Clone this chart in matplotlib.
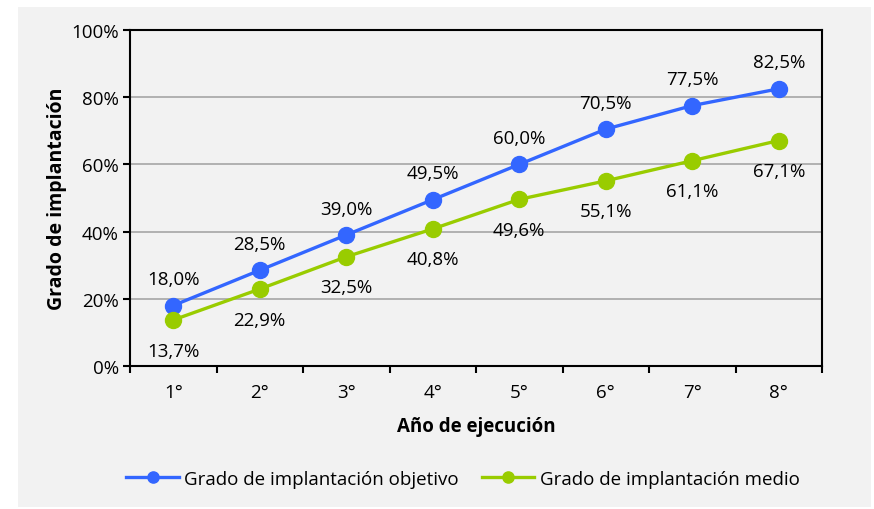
import matplotlib.pyplot as plt
from matplotlib.patches import Rectangle

# Chart data
years = ["1°", "2°", "3°", "4°", "5°", "6°", "7°", "8°"]
objetivo = [18.0, 28.5, 39.0, 49.5, 60.0, 70.5, 77.5, 82.5]
medio = [13.7, 22.9, 32.5, 40.8, 49.6, 55.1, 61.1, 67.1]
yticks = [0, 20, 40, 60, 80, 100]

blue = "#3366FF"
green = "#99CC00"
bg = "#F2F2F2"

plt.rcParams["font.family"] = ["Open Sans", "DejaVu Sans"]

fig = plt.figure(figsize=(8.74, 5.10), dpi=100)
fig.patch.set_facecolor("white")
fig.patches.append(Rectangle((18 / 874, 2 / 510), 853 / 874, 500 / 510,
                             transform=fig.transFigure, facecolor=bg,
                             edgecolor="none", zorder=-10))

ax = fig.add_axes([130 / 874, 1 - 367 / 510, 692 / 874, 336 / 510])
ax.set_facecolor(bg)

x = list(range(len(years)))
ax.plot(x, objetivo, "-o", color=blue, lw=2.4, ms=11.5, label="Grado de implantación objetivo", zorder=3)
ax.plot(x, medio, "-o", color=green, lw=2.4, ms=11.5, label="Grado de implantación medio", zorder=3)

for xi, v in zip(x, objetivo):
    ax.annotate(f"{v:.1f}%".replace(".", ","), (xi, v), xytext=(0, 19),
                textcoords="offset points", ha="center", va="center", fontsize=13.5)
for xi, v in zip(x, medio):
    ax.annotate(f"{v:.1f}%".replace(".", ","), (xi, v), xytext=(0, -22),
                textcoords="offset points", ha="center", va="center", fontsize=13.5)

ax.set_xlim(-0.5, len(years) - 0.5)
ax.set_ylim(0, 100)
ax.set_yticks(yticks)
ax.set_yticklabels([f"{t}%" for t in yticks], fontsize=13.5)
ax.set_xticks(x)
ax.set_xticklabels(years, fontsize=13.5)
ax.set_xticks([i - 0.5 for i in range(len(years) + 1)], minor=True)
ax.tick_params(axis="x", which="major", length=0, pad=12)
ax.tick_params(axis="x", which="minor", length=5, width=1.5, direction="out")
ax.tick_params(axis="y", length=5, width=1.5, direction="out", pad=3)

ax.grid(axis="y", color="#A6A6A6", lw=1.2)
ax.set_axisbelow(True)
for s in ax.spines.values():
    s.set_linewidth(1.5)
    s.set_color("black")

ax.set_xlabel("Año de ejecución", fontsize=13.5, fontweight="bold", labelpad=11)
ax.set_ylabel("Grado de implantación", fontsize=14, fontweight="bold", labelpad=3)

ax.legend(loc="center", bbox_to_anchor=(463 / 874, 1 - 480 / 510), bbox_transform=fig.transFigure,
          ncol=2, frameon=False, fontsize=13.5, handlelength=2.8, columnspacing=1.2,
          handletextpad=0.3, markerscale=0.7)

fig.savefig("out.png", dpi=100, facecolor=fig.get_facecolor())
